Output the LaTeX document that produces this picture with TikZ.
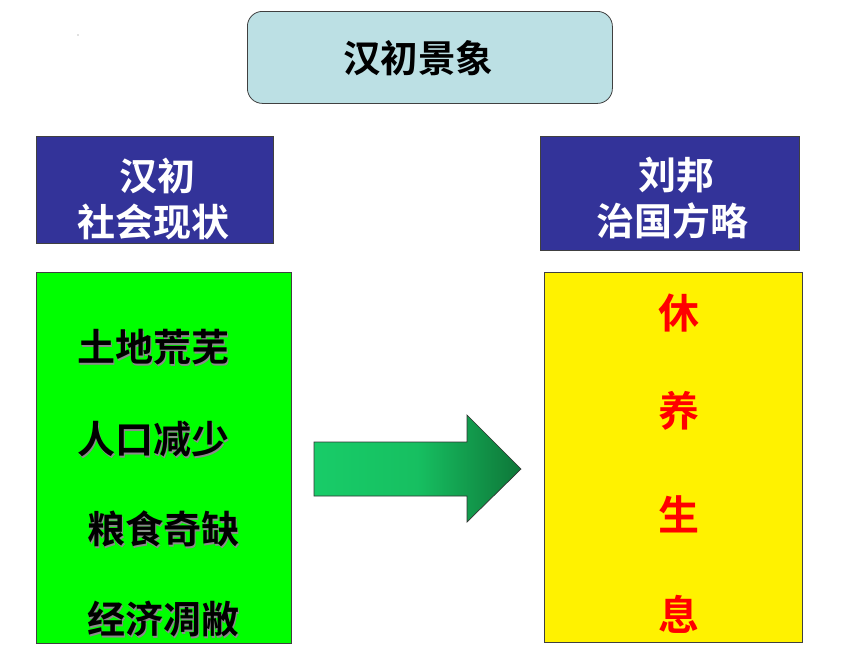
\documentclass[tikz,border=0pt]{standalone}
\usepackage{fontspec}
\newfontfamily\cjk{Noto Sans CJK SC}[BoldFont={* Bold}]
\usetikzlibrary{positioning}
\definecolor{titlefill}{RGB}{188,224,228}
\definecolor{hdrblue}{RGB}{51,51,153}
\definecolor{lightgreen}{RGB}{0,255,0}
\definecolor{arrowL}{RGB}{24,204,104}
\definecolor{arrowR}{RGB}{14,118,56}
\newcommand\shtext[1]{\rlap{\kern1.6pt\raisebox{-1.6pt}{\color{black!45}#1}}#1}
\begin{document}
\begin{tikzpicture}[x=1pt,y=-1pt,
  box/.style={draw=black!75,line width=0.8pt,inner sep=0pt,anchor=north west},
  hdrtext/.style={text=white,font=\cjk\bfseries\fontsize{38}{46}\selectfont,align=center,inner sep=0pt},
  greentext/.style={text=black,font=\cjk\bfseries\fontsize{38}{46}\selectfont,inner sep=0pt,anchor=west},
  redtext/.style={text=red,font=\cjk\bfseries\fontsize{41}{46}\selectfont,inner sep=0pt}]
\useasboundingbox (0,0) rectangle (860,645);
\fill[white] (0,0) rectangle (860,645);
% tiny dot
\fill[black!50] (78,35) circle (0.7);
% title
\node[box,fill=titlefill,rounded corners=15pt,minimum width=365pt,minimum height=92pt] (title) at (247,11) {};
\node[font=\cjk\bfseries\fontsize{37.5}{44}\selectfont,inner sep=0pt] (titletext) at (418,58) {汉初景象};
% header boxes
\node[box,fill=hdrblue,minimum width=237pt,minimum height=107pt] (lhdr) at (35.5,136) {};
\node[hdrtext] (lhdrtext) at (153.5,199) {\ 汉初\\社会现状};
\node[box,fill=hdrblue,minimum width=259pt,minimum height=114pt] (rhdr) at (540,136) {};
\node[hdrtext] (rhdrtext) at (672,198) {\ 刘邦\\治国方略};
% content boxes
\node[box,fill=lightgreen,minimum width=255pt,minimum height=371pt] (lbox) at (35.5,272) {};
\node[box,fill=yellow,minimum width=258pt,minimum height=370pt] (rbox) at (544,272) {};
% green texts
\node[greentext] (g1) at (77,348) {\shtext{土地荒芜}};
\node[greentext] (g2) at (77,440) {\shtext{人口减少}};
\node[greentext] (g3) at (87,530) {\shtext{粮食奇缺}};
\node[greentext] (g4) at (87,620) {\shtext{经济凋敝}};
% red texts
\node[redtext] (r1) at (679,313) {休};
\node[redtext] (r2) at (679,411) {养};
\node[redtext] (r3) at (679,514) {生};
\node[redtext] (r4) at (679,614) {息};
% big arrow
\coordinate (a1) at (314,442);
\coordinate (a2) at (467,442);
\coordinate (a3) at (467,415);
\coordinate (a4) at (521,469);
\coordinate (a5) at (467,522);
\coordinate (a6) at (467,496);
\coordinate (a7) at (314,496);
\path[draw=black!80,line width=0.7pt,left color=arrowL,right color=arrowR,middle color=arrowL!85!arrowR]
  (a1) -- (a2) -- (a3) -- (a4) -- (a5) -- (a6) -- (a7) -- cycle;
\end{tikzpicture}
\end{document}
